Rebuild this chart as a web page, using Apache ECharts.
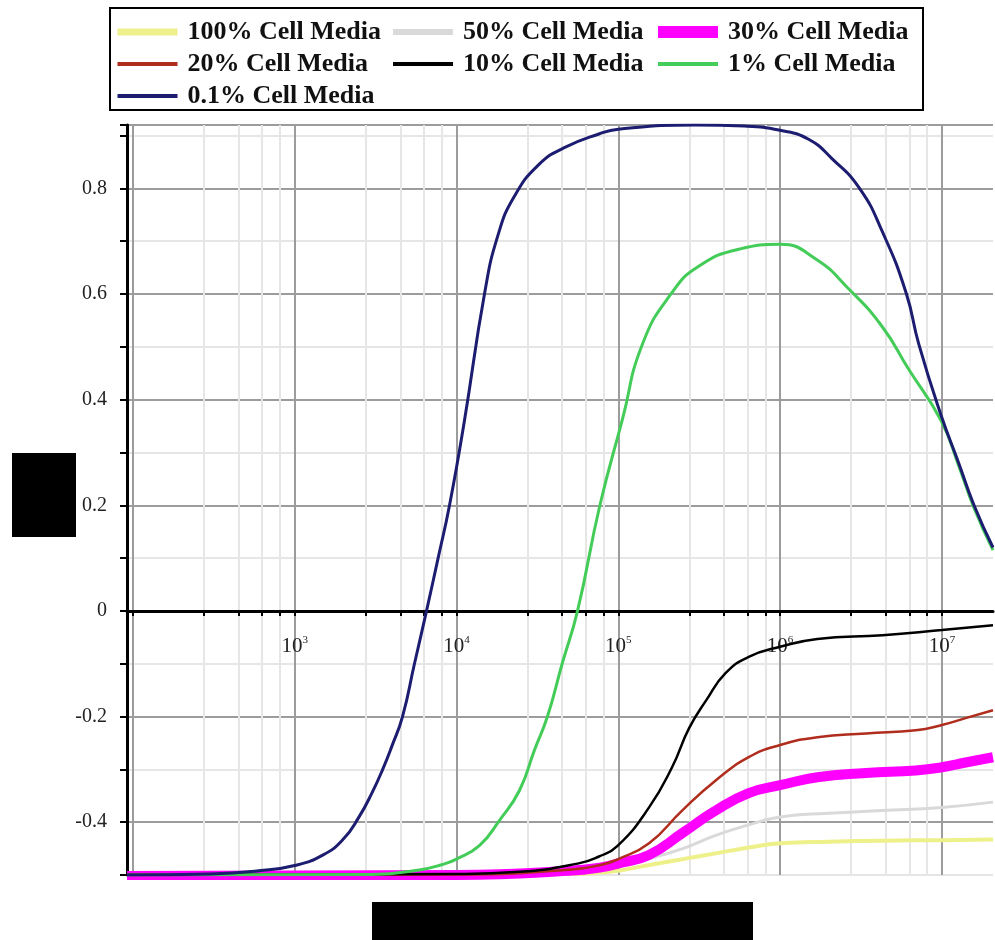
<!DOCTYPE html>
<html>
<head>
<meta charset="utf-8">
<script src="https://cdn.jsdelivr.net/npm/echarts@6/dist/echarts.min.js"></script>
<style>
  html, body { margin: 0; padding: 0; background: #ffffff; }
  #chart { width: 995px; height: 940px; }
</style>
</head>
<body>
<div id="chart"></div>
<script>
// Frequency sweep (log x) and response for dilutions of cell media.
var MEDIA_100_X = [92, 1e4, 5e4, 8e4, 1e5, 1.5e5, 2.5e5, 4e5, 6.4e5, 1e6, 2e6, 4.3e6, 1e7, 2.07e7];
var MEDIA_100_Y = [-0.5, -0.5, -0.498, -0.495, -0.492, -0.482, -0.47, -0.459, -0.448, -0.44, -0.437, -0.435, -0.434, -0.433];

var MEDIA_50_X = [92, 1e4, 5e4, 8e4, 1e5, 1.5e5, 2.5e5, 4e5, 6.4e5, 1e6, 2e6, 4.3e6, 1e7, 2.07e7];
var MEDIA_50_Y = [-0.5, -0.5, -0.495, -0.488, -0.482, -0.47, -0.45, -0.425, -0.405, -0.39, -0.383, -0.378, -0.372, -0.362];

var MEDIA_30_X = [92, 1e4, 5e4, 8e4, 1e5, 1.55e5, 2.48e5, 4e5, 6.4e5, 1e6, 1.7e6, 3.4e6, 6.9e6, 1e7, 1.4e7, 2.07e7];
var MEDIA_30_Y = [-0.502, -0.5, -0.492, -0.485, -0.478, -0.462, -0.421, -0.378, -0.345, -0.33, -0.315, -0.307, -0.302, -0.296, -0.287, -0.277];

var MEDIA_20_X = [92, 1e4, 5e4, 8e4, 1e5, 1.55e5, 2.48e5, 4e5, 6.4e5, 1e6, 1.7e6, 3.4e6, 6.9e6, 1e7, 1.4e7, 2.07e7];
var MEDIA_20_Y = [-0.5, -0.499, -0.49, -0.48, -0.47, -0.44, -0.378, -0.321, -0.277, -0.254, -0.239, -0.232, -0.226, -0.216, -0.203, -0.188];

var MEDIA_10_X = [92, 1e4, 2.45e4, 5.7e4, 7.6e4, 9.9e4, 1.55e5, 2.15e5, 2.74e5, 3.5e5, 4.6e5, 6.4e5, 1e6, 1.7e6, 4.3e6, 1e7, 2.07e7];
var MEDIA_10_Y = [-0.5, -0.498, -0.494, -0.478, -0.465, -0.445, -0.372, -0.296, -0.222, -0.169, -0.118, -0.087, -0.068, -0.053, -0.046, -0.036, -0.027];

var MEDIA_1_X = [92, 3000, 6000, 8200, 1e4, 1.39e4, 1.84e4, 2.45e4, 3.03e4, 3.65e4, 4.5e4, 5.6e4, 7.7e4, 1.06e5, 1.41e5, 2.15e5, 3.16e5, 5.6e5, 1e6, 1.67e6, 2.67e6, 4.26e6, 6.25e6, 9.9e6, 1.27e7, 1.58e7, 2.07e7];
var MEDIA_1_Y = [-0.5, -0.499, -0.49, -0.48, -0.47, -0.444, -0.397, -0.34, -0.264, -0.2, -0.1, 0.0, 0.2, 0.362, 0.505, 0.603, 0.653, 0.685, 0.694, 0.666, 0.609, 0.539, 0.457, 0.36, 0.275, 0.195, 0.115];

var MEDIA_01_X = [92, 300, 600, 1000, 1500, 2000, 2500, 3000, 3500, 4000, 4640, 5500, 6530, 7700, 9060, 1.12e4, 1.49e4, 1.8e4, 2.28e4, 3.25e4, 4.64e4, 7.6e4, 1e5, 3e5, 6e5, 1e6, 1.5e6, 2.1e6, 3.1e6, 4.3e6, 6e6, 7.2e6, 9.9e6, 1.27e7, 1.58e7, 2.07e7];
var MEDIA_01_Y = [-0.5, -0.498, -0.492, -0.482, -0.462, -0.432, -0.39, -0.345, -0.3, -0.255, -0.2, -0.1, 0.0, 0.1, 0.2, 0.36, 0.6, 0.71, 0.785, 0.846, 0.877, 0.903, 0.912, 0.92, 0.918, 0.91, 0.893, 0.856, 0.8, 0.717, 0.603, 0.505, 0.37, 0.28, 0.2, 0.12];

var SERIES_NAMES = ['100% Cell Media', '50% Cell Media', '30% Cell Media', '20% Cell Media', '10% Cell Media', '1% Cell Media', '0.1% Cell Media'];

// Decade tick labels and grid positions along the log axis
var DECADE_LABELS = [1e3, 1e4, 1e5, 1e6, 1e7];
var DECADES = [1e2, 1e3, 1e4, 1e5, 1e6, 1e7];
var MINOR_FACTORS = [2.75, 4.5, 6.3, 8.1];

var X_MIN = 92, X_MAX = 2.07e7;
var Y_MIN = -0.5, Y_MAX = 0.92;

var FONT = '"Liberation Serif", "Times New Roman", serif';

function zip(xs, ys) {
  var out = [];
  for (var i = 0; i < xs.length; i++) out.push([xs[i], ys[i]]);
  return out;
}

var xTickValues = [];
DECADES.forEach(function (d) {
  xTickValues.push(d);
  MINOR_FACTORS.forEach(function (f) {
    var v = d * f;
    if (v < X_MAX) xTickValues.push(v);
  });
});

var styles = [
  { color: '#eef08a', width: 4, legendWidth: 7 },
  { color: '#d9d9d9', width: 3, legendWidth: 6 },
  { color: '#ff00ff', width: 10, legendWidth: 12 },
  { color: '#b02c1c', width: 2.5, legendWidth: 4 },
  { color: '#000000', width: 2.5, legendWidth: 4 },
  { color: '#44cc58', width: 3, legendWidth: 4 },
  { color: '#1c1c70', width: 3, legendWidth: 4 }
];
var xs = [MEDIA_100_X, MEDIA_50_X, MEDIA_30_X, MEDIA_20_X, MEDIA_10_X, MEDIA_1_X, MEDIA_01_X];
var ys = [MEDIA_100_Y, MEDIA_50_Y, MEDIA_30_Y, MEDIA_20_Y, MEDIA_10_Y, MEDIA_1_Y, MEDIA_01_Y];

var series = SERIES_NAMES.map(function (name, i) {
  return {
    name: name,
    type: 'line',
    data: zip(xs[i], ys[i]),
    showSymbol: false,
    symbol: 'none',
    smooth: 0.5,
    lineStyle: { color: styles[i].color, width: styles[i].width },
    itemStyle: { color: styles[i].color },
    z: 3 + i,
    animation: false
  };
});

var legendText = {
  fontFamily: FONT,
  fontSize: 26,
  fontWeight: 'bold',
  color: '#111',
  lineHeight: 26,
  padding: [0, 0, 0, 5]
};
function legendColumn(left, names) {
  return {
    orient: 'vertical',
    left: left,
    top: 19,
    padding: 0,
    itemGap: 6,
    itemWidth: 60,
    itemHeight: 14,
    selectedMode: false,
    itemStyle: { opacity: 0 },
    textStyle: legendText,
    data: names.map(function (n) {
      var s = styles[SERIES_NAMES.indexOf(n)];
      return { name: n, lineStyle: { width: s.legendWidth, color: s.color } };
    })
  };
}

var option = {
  backgroundColor: '#ffffff',
  animation: false,
  legend: [
    legendColumn(114, ['100% Cell Media', '20% Cell Media', '0.1% Cell Media']),
    legendColumn(390, ['50% Cell Media', '10% Cell Media']),
    legendColumn(652, ['30% Cell Media', '1% Cell Media'])
  ],
  grid: { left: 127, right: 2, top: 125, bottom: 65, containLabel: false },
  xAxis: {
    type: 'log',
    logBase: 10,
    min: X_MIN,
    max: X_MAX,
    // axis drawn along y = 0
    offset: -264,
    axisLine: { onZero: false, lineStyle: { color: '#000', width: 3 } },
    axisTick: {
      show: true,
      inside: false,
      length: 5,
      lineStyle: { color: '#000', width: 2 },
      customValues: xTickValues
    },
    axisLabel: {
      customValues: DECADE_LABELS,
      margin: 24,
      formatter: function (v) {
        var e = Math.round(Math.log10(v));
        return '{b|10}{s|' + e + '}';
      },
      rich: {
        b: { fontFamily: FONT, fontSize: 21, color: '#222' },
        s: { fontFamily: FONT, fontSize: 11, color: '#222', verticalAlign: 'top', padding: [0, 0, 12, 0] }
      }
    },
    splitLine: {
      show: true,
      lineStyle: { color: ['#9c9c9c', '#e6e6e6', '#e6e6e6', '#e6e6e6', '#e6e6e6'], width: 2 }
    },
    minorTick: { show: false },
    minorSplitLine: { show: false }
  },
  yAxis: {
    type: 'value',
    min: Y_MIN,
    max: Y_MAX,
    interval: 0.1,
    axisLine: { show: true, onZero: false, lineStyle: { color: '#000', width: 3 } },
    axisTick: { show: true, length: 7, lineStyle: { color: '#000', width: 2 } },
    axisLabel: {
      margin: 20,
      fontFamily: FONT,
      fontSize: 20,
      color: '#222',
      formatter: function (v) {
        var k = Math.round(v * 10);
        if (Math.abs(v * 10 - k) > 1e-6 || k % 2 !== 0) return '';
        if (k === 0) return '0';
        return (v < 0 ? '-' : '') + Math.abs(v).toFixed(1);
      }
    },
    splitLine: {
      show: true,
      lineStyle: { color: ['#e6e6e6', '#9c9c9c'], width: 2 }
    }
  },
  graphic: [
    {
      type: 'rect',
      shape: { x: 110, y: 8, width: 813, height: 102 },
      style: { fill: 'none', stroke: '#000', lineWidth: 2 },
      z: 10
    },
    {
      type: 'rect',
      shape: { x: 12, y: 453, width: 64, height: 84 },
      style: { fill: '#000' },
      z: 10
    },
    {
      type: 'rect',
      shape: { x: 372, y: 902, width: 381, height: 38 },
      style: { fill: '#000' },
      z: 10
    }
  ],
  series: series
};

var chart = echarts.init(document.getElementById('chart'), null, { renderer: 'canvas' });
chart.setOption(option);
</script>
</body>
</html>
